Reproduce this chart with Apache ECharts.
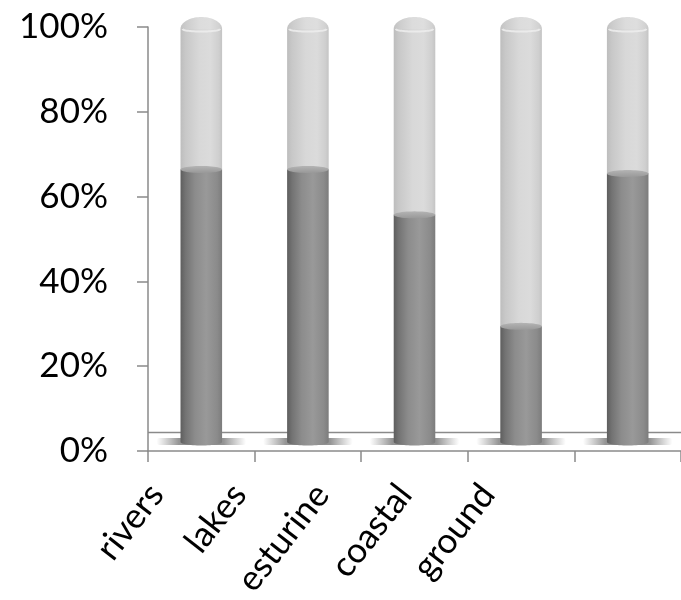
<!DOCTYPE html>
<html>
<head>
<meta charset="utf-8">
<script src="https://cdn.jsdelivr.net/npm/echarts@6/dist/echarts.min.js"></script>
<style>
  html, body { margin: 0; padding: 0; background: #ffffff; }
  #chart { width: 681px; height: 600px; }
</style>
</head>
<body>
<div id="chart"></div>
<script>
// Share of each water body type (percent), lower and upper stack parts
const categories = ['rivers', 'lakes', 'esturine', 'coastal', 'ground'];
const lowerShare = [66, 66, 55, 28, 65];
const upperShare = [34, 34, 45, 72, 35];
const axisMin = 0;
const axisMax = 100;
const axisStep = 20;

const FONT = 'Lato, "Open Sans", sans-serif';
const AXIS_GREY = '#8a8a8a';

function hGrad(stops) {
  return new echarts.graphic.LinearGradient(0, 0, 1, 0,
    stops.map(s => ({ offset: s[0], color: s[1] })));
}
function vGrad(stops) {
  return new echarts.graphic.LinearGradient(0, 0, 0, 1,
    stops.map(s => ({ offset: s[0], color: s[1] })));
}

// points along an elliptical arc (angles in radians, screen y grows downward)
function arcPoints(cx, cy, rx, ry, a0, a1, n) {
  const pts = [];
  for (let k = 0; k <= n; k++) {
    const a = a0 + (a1 - a0) * k / n;
    pts.push([cx + rx * Math.cos(a), cy + ry * Math.sin(a)]);
  }
  return pts;
}

// cylinder with a rounded cap, two stacked parts
function renderCylinder(params, api) {
  const i = api.value(0);
  const lo = api.value(1);
  const hi = api.value(2);
  const base = api.coord([i, 0]);
  const mid = api.coord([i, lo]);
  const top = api.coord([i, lo + hi]);
  const band = api.size([1, 0])[0];
  const hw = band * 0.195;
  const cx = base[0];
  const ry = 3.5;
  const children = [];

  // soft floor shadow
  children.push({
    type: 'rect',
    shape: { x: cx - hw - 24, y: base[1] - 4, width: 2 * hw + 48, height: 7, r: 3 },
    style: {
      fill: hGrad([[0, 'rgba(140,140,140,0)'], [0.25, 'rgba(130,130,130,0.85)'],
                   [0.5, 'rgba(120,120,120,0.9)'], [0.75, 'rgba(130,130,130,0.85)'],
                   [1, 'rgba(140,140,140,0)']])
    }
  });

  // upper (light) body
  children.push({
    type: 'rect',
    shape: { x: cx - hw, y: top[1], width: 2 * hw, height: mid[1] - top[1] },
    style: {
      fill: hGrad([[0, '#bdbdbd'], [0.12, '#c8c8c8'], [0.45, '#d8d8d8'],
                   [0.72, '#dbdbdb'], [0.92, '#cfcfcf'], [1, '#c4c4c4']])
    }
  });

  // rounded cap
  const capPts = arcPoints(cx, top[1], hw, 12, Math.PI, 2 * Math.PI, 40);
  children.push({
    type: 'polygon',
    shape: { points: capPts },
    style: {
      fill: hGrad([[0, '#c2c2c2'], [0.15, '#cdcdcd'], [0.45, '#dcdcdc'],
                   [0.72, '#dedede'], [0.92, '#d2d2d2'], [1, '#c8c8c8']])
    }
  });
  children.push({
    type: 'polyline',
    shape: { points: arcPoints(cx, top[1], hw - 2, 2.5, 0, Math.PI, 30) },
    style: { stroke: 'rgba(236,236,236,0.9)', lineWidth: 2, fill: null }
  });

  // lower (dark) body with rounded base
  const darkPts = [[cx - hw, mid[1]], [cx + hw, mid[1]]]
    .concat(arcPoints(cx, base[1], hw, ry, 0, Math.PI, 30));
  children.push({
    type: 'polygon',
    shape: { points: darkPts },
    style: {
      fill: hGrad([[0, '#5e5e5e'], [0.12, '#737373'], [0.35, '#8c8c8c'],
                   [0.62, '#999999'], [0.88, '#8b8b8b'], [1, '#7c7c7c']])
    }
  });

  // top face of the dark part
  children.push({
    type: 'polygon',
    shape: { points: arcPoints(cx, mid[1], hw, ry, 0, 2 * Math.PI, 48) },
    style: {
      fill: vGrad([[0, '#b4b4b4'], [0.5, '#a6a6a6'], [1, '#999999']])
    }
  });

  return { type: 'group', children: children };
}

const chart = echarts.init(document.getElementById('chart'), null, { renderer: 'canvas' });

chart.setOption({
  animation: false,
  backgroundColor: '#ffffff',
  grid: [
    // visible axes (front plane)
    { left: 148, top: 27, width: 542, height: 424 },
    // cylinders (set back on the floor)
    { left: 148, top: 29, width: 542, height: 413 },
    // category labels
    { left: 115, top: 27, width: 414, height: 424 }
  ],
  xAxis: [
    {
      gridIndex: 0, type: 'category', data: categories,
      axisLine: { lineStyle: { color: AXIS_GREY, width: 1.5 } },
      axisTick: { show: true, length: 11, alignWithLabel: false, lineStyle: { color: AXIS_GREY, width: 1.5 } },
      axisLabel: { show: false },
      splitLine: { show: false }
    },
    {
      gridIndex: 1, type: 'category', data: categories,
      show: false
    },
    {
      gridIndex: 2, type: 'category', data: categories,
      axisLine: { show: false },
      axisTick: { show: false },
      splitLine: { show: false },
      axisLabel: {
        interval: 0, rotate: 52, margin: 50,
        fontSize: 35, fontFamily: FONT, color: '#000000'
      }
    }
  ],
  yAxis: [
    {
      gridIndex: 0, type: 'value', min: axisMin, max: axisMax, interval: axisStep,
      axisLine: { show: true, lineStyle: { color: AXIS_GREY, width: 1.5 } },
      axisTick: { show: true, length: 11, lineStyle: { color: AXIS_GREY, width: 1.5 } },
      splitLine: { show: false },
      axisLabel: {
        formatter: '{value}%', margin: 40, padding: [6, 0, 0, 0],
        fontSize: 35, fontFamily: FONT, color: '#000000'
      }
    },
    { gridIndex: 1, type: 'value', min: axisMin, max: axisMax, show: false },
    { gridIndex: 2, type: 'value', min: axisMin, max: axisMax, show: false }
  ],
  graphic: [
    {
      // back edge of the floor
      type: 'line', z: 1,
      shape: { x1: 148, y1: 432.5, x2: 681, y2: 432.5 },
      style: { stroke: AXIS_GREY, lineWidth: 1.5 }
    }
  ],
  series: [
    {
      type: 'custom',
      xAxisIndex: 1,
      yAxisIndex: 1,
      clip: false,
      z: 5,
      renderItem: renderCylinder,
      data: categories.map((c, i) => [i, lowerShare[i], upperShare[i]])
    }
  ]
});
</script>
</body>
</html>
